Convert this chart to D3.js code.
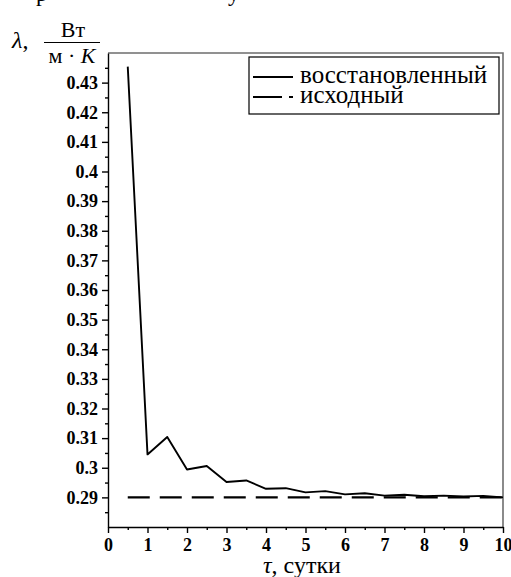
<!DOCTYPE html>
<html>
<head>
<meta charset="utf-8">
<script src="https://cdn.jsdelivr.net/npm/d3@7"></script>
<style>
  body { margin: 0; background: #fff; }
  svg { display: block; }
  text { font-family: "Liberation Serif", "DejaVu Serif", serif; fill: #000; }
  .tick text { font-weight: bold; font-size: 18px; }
  .domain, .tick line { stroke: #000; stroke-width: 1.4; }
</style>
</head>
<body>
<svg id="chart" width="511" height="577"></svg>
<script>

// время, сутки
var tau = [0.5, 1, 1.5, 2, 2.5, 3, 3.5, 4, 4.5, 5, 5.5, 6, 6.5, 7, 7.5, 8, 8.5, 9, 9.5, 10];
// восстановленный коэффициент
var lambdaRest = [0.4354, 0.3045, 0.3104, 0.2994, 0.3006, 0.2952, 0.2957, 0.2929, 0.2931, 0.2917,
                  0.2921, 0.2910, 0.2914, 0.2906, 0.2909, 0.2904, 0.2906, 0.2903, 0.2905, 0.2900];
// исходный
var lambdaSrc = [0.29, 0.29];
var tauSrc = [0.5, 10];

var yMajor = [0.29, 0.30, 0.31, 0.32, 0.33, 0.34, 0.35, 0.36, 0.37, 0.38, 0.39, 0.40, 0.41, 0.42, 0.43];
var yLabels = ["0.29", "0.3", "0.31", "0.32", "0.33", "0.34", "0.35", "0.36", "0.37", "0.38", "0.39", "0.4", "0.41", "0.42", "0.43"];
var yMinor = [0.285, 0.295, 0.305, 0.315, 0.325, 0.335, 0.345, 0.355, 0.365, 0.375, 0.385, 0.395, 0.405, 0.415, 0.425, 0.435];
var xMajor = [0, 1, 2, 3, 4, 5, 6, 7, 8, 9, 10];
var xMinor = [0.5, 1.5, 2.5, 3.5, 4.5, 5.5, 6.5, 7.5, 8.5, 9.5];

var legendNames = ["восстановленный", "исходный"];

var pLeft = 108, pRight = 503, pTop = 53, pBottom = 527;

var svg = d3.select("#chart");

var xScale = d3.scaleLinear()
    .range([pLeft, pRight])
    .domain([0, 10]);

var yScale = d3.scaleLinear()
    .range([pBottom, pTop])
    .domain([0.28, 0.44]);

// рамка (серая сверху и справа)
svg.append("path")
    .attr("d", "M" + pLeft + "," + pTop + "H" + pRight + "V" + pBottom)
    .attr("fill", "none")
    .attr("stroke", "#6e6e6e")
    .attr("stroke-width", 1.6);

// малые деления
svg.append("g")
    .attr("transform", "translate(" + pLeft + ",0)")
    .call(d3.axisLeft(yScale).tickValues(yMinor).tickSize(3).tickFormat(""))
    .select(".domain").remove();

svg.append("g")
    .attr("transform", "translate(0," + pBottom + ")")
    .call(d3.axisBottom(xScale).tickValues(xMinor).tickSize(3).tickFormat(""))
    .select(".domain").remove();

// основные оси
svg.append("g")
    .attr("class", "y axis")
    .attr("transform", "translate(" + pLeft + ",0)")
    .call(d3.axisLeft(yScale).tickValues(yMajor).tickSize(6).tickSizeOuter(0).tickPadding(4)
        .tickFormat(function(d, i){ return yLabels[i]; }));

svg.append("g")
    .attr("class", "x axis")
    .attr("transform", "translate(0," + pBottom + ")")
    .call(d3.axisBottom(xScale).tickValues(xMajor).tickSize(6).tickSizeOuter(0).tickPadding(5)
        .tickFormat(d3.format("d")));

var line = d3.line()
    .x(function(d){ return xScale(d[0]); })
    .y(function(d){ return yScale(d[1]); });

// исходный - штриховая
svg.append("path")
    .datum(tauSrc.map(function(t, i){ return [t, lambdaSrc[i]]; }))
    .attr("d", line)
    .attr("fill", "none")
    .attr("stroke", "#000")
    .attr("stroke-width", 2.2)
    .attr("stroke-dasharray", "22,10");

// восстановленный - сплошная
svg.append("path")
    .datum(tau.map(function(t, i){ return [t, lambdaRest[i]]; }))
    .attr("d", line)
    .attr("fill", "none")
    .attr("stroke", "#000")
    .attr("stroke-width", 1.9)
    .attr("stroke-linejoin", "round");

// легенда
var legend = svg.append("g").attr("transform", "translate(249,57)");
legend.append("rect")
    .attr("width", 250).attr("height", 57)
    .attr("fill", "#fff").attr("stroke", "#000").attr("stroke-width", 1.2);

legend.selectAll(".lgline")
    .data(legendNames)
    .enter().append("line")
    .attr("class", "lgline")
    .attr("x1", 4).attr("x2", 44)
    .attr("y1", function(d, i){ return 20 + i * 20; })
    .attr("y2", function(d, i){ return 20 + i * 20; })
    .attr("stroke", "#000")
    .attr("stroke-width", 2)
    .attr("stroke-dasharray", function(d, i){ return i ? "29,7" : null; });

legend.selectAll(".lgtext")
    .data(legendNames)
    .enter().append("text")
    .attr("class", "lgtext")
    .attr("x", 51)
    .attr("y", function(d, i){ return 26 + i * 20; })
    .style("font-size", "25px")
    .text(function(d){ return d; });

// подпись оси X
var xt = svg.append("text")
    .attr("x", 263).attr("y", 573)
    .style("font-size", "24px");
xt.append("tspan").style("font-style", "italic").text("τ");
xt.append("tspan").text(", сутки");

// подпись оси Y
var yt = svg.append("text")
    .attr("x", 12).attr("y", 48)
    .style("font-size", "24px");
yt.append("tspan").style("font-style", "italic").text("λ");
yt.append("tspan").text(",");

svg.append("text")
    .attr("x", 73).attr("y", 37)
    .attr("text-anchor", "middle")
    .style("font-size", "22px")
    .text("Вт");

svg.append("line")
    .attr("x1", 44).attr("x2", 100)
    .attr("y1", 42.5).attr("y2", 42.5)
    .attr("stroke", "#000").attr("stroke-width", 1.2);

var den = svg.append("text")
    .attr("x", 72).attr("y", 63)
    .attr("text-anchor", "middle")
    .style("font-size", "22px");
den.append("tspan").text("м · ");
den.append("tspan").style("font-style", "italic").text("K");

// обрезанная строка текста сверху
svg.append("text")
    .attr("x", 36).attr("y", 1)
    .style("font-size", "23px")
    .text("р");
svg.append("text")
    .attr("x", 228).attr("y", 1)
    .style("font-size", "23px")
    .text("у");

</script>
</body>
</html>
